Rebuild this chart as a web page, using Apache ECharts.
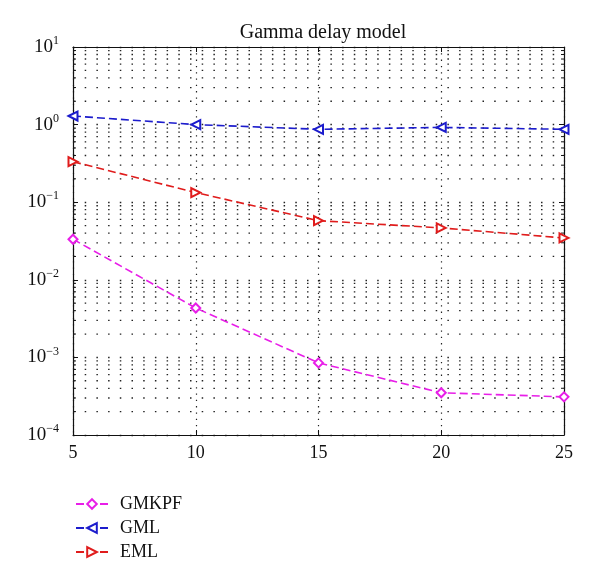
<!DOCTYPE html>
<html><head><meta charset="utf-8">
<script src="https://cdn.jsdelivr.net/npm/echarts@6/dist/echarts.min.js"></script>
<style>html,body{margin:0;padding:0;background:#fff}#c{width:600px;height:580px}</style>
</head><body><div id="c"></div>
<script>
const xValues = [5, 10, 15, 20, 25];
const gmkpf = [0.0333, 0.00433, 0.00085, 0.00035, 0.00031];
const gml = [1.29, 1.0, 0.87, 0.92, 0.87];
const eml = [0.333, 0.133, 0.0578, 0.0466, 0.0346];
const seriesNames = ['GMKPF', 'GML', 'EML'];
const titleText = 'Gamma delay model';

const SERIF = '"Liberation Serif", "DejaVu Serif", serif';
const minorYs = [];
for (let k = -4; k <= 0; k++) for (let m = 2; m <= 9; m++) minorYs.push(+(m * Math.pow(10, k)).toPrecision(3));

function pairs(ys) { return xValues.map((x, i) => [x, ys[i]]); }
function supLabel(v) {
  const e = Math.round(Math.log10(v));
  const s = e < 0 ? '\u2212' + (-e) : String(e);
  return '{b|10}{s|' + s + '}';
}
const DOT_H = [1.5, 10.2];
const chart = echarts.init(document.getElementById('c'), null, {renderer: 'canvas'});
const lineSeries = (name, data, color, symbol, rot) => ({
  name, type: 'line', data: pairs(data), xAxisIndex: 0, yAxisIndex: 0,
  symbol, symbolSize: 9, symbolRotate: rot,
  lineStyle: {color, width: 1.6, type: [8, 4]},
  itemStyle: {color, borderColor: color, borderWidth: 1.4},
  z: 5
});
chart.setOption({
  animation: false,
  backgroundColor: '#fff',
  title: {text: titleText, left: 318, top: 18, textAlign: 'center',
    textStyle: {fontFamily: SERIF, fontSize: 20, fontWeight: 'normal', color: '#111'}},
  grid: {left: 73, right: 36, top: 47, bottom: 145},
  legend: {
    orient: 'vertical', left: 70, top: 490, itemGap: 6, itemWidth: 32, itemHeight: 12,
    data: seriesNames,
    textStyle: {fontFamily: SERIF, fontSize: 18, color: '#111', padding: [0, 0, 0, 7]}
  },
  xAxis: [{
    type: 'value', min: 5, max: 25, interval: 5,
    axisLine: {lineStyle: {color: '#111', width: 1.2}},
    axisTick: {inside: true, length: 5, lineStyle: {color: '#111'}},
    axisLabel: {fontFamily: SERIF, fontSize: 18, color: '#111', margin: 9},
    splitLine: {show: true, lineStyle: {color: '#222', width: 1.2, type: [1.3, 5]}}
  }, {
    type: 'value', min: 5, max: 25, interval: 5, position: 'top',
    axisLine: {show: true, lineStyle: {color: '#111', width: 1.2}},
    axisTick: {inside: true, length: 5, lineStyle: {color: '#111'}},
    axisLabel: {show: false}, splitLine: {show: false}
  }],
  yAxis: [{
    type: 'log', logBase: 10, min: 1e-4, max: 10, interval: 1,
    axisLine: {show: true, lineStyle: {color: '#111', width: 1.2}},
    axisTick: {show: true, inside: true, length: 5, lineStyle: {color: '#111'}},
    axisLabel: {margin: 14, formatter: supLabel, rich: {
      b: {fontFamily: SERIF, fontSize: 19, color: '#111'},
      s: {fontFamily: SERIF, fontSize: 12, color: '#111', padding: [0, 0, 12, 0]}
    }},
    splitLine: {show: true, lineStyle: {color: '#222', width: 1.3, type: DOT_H}}
  }, {
    type: 'log', logBase: 10, min: 1e-4, max: 10, interval: 1, position: 'right',
    axisLine: {show: true, lineStyle: {color: '#111', width: 1.2}},
    axisTick: {show: true, inside: true, length: 5, lineStyle: {color: '#111'}},
    axisLabel: {show: false}, splitLine: {show: false}
  }],
  series: [
    {
      type: 'custom', silent: true, xAxisIndex: 0, yAxisIndex: 0, z: 1,
      data: minorYs.map(v => [5, v]),
      encode: {x: 0, y: 1},
      renderItem: function (params, api) {
        const v = api.value(1);
        const p1 = api.coord([5, v]);
        const p2 = api.coord([25, v]);
        return {type: 'group', children: [
          {type: 'line', shape: {x1: p1[0], y1: p1[1], x2: p2[0], y2: p2[1]},
            style: {stroke: '#222', lineWidth: 1.3, lineDash: DOT_H}},
          {type: 'line', shape: {x1: p1[0], y1: p1[1], x2: p1[0] + 3, y2: p1[1]},
            style: {stroke: '#111', lineWidth: 1}},
          {type: 'line', shape: {x1: p2[0] - 3, y1: p2[1], x2: p2[0], y2: p2[1]},
            style: {stroke: '#111', lineWidth: 1}}
        ]};
      }
    },
    lineSeries('GMKPF', gmkpf, '#e81ee8', 'emptyDiamond', 0),
    lineSeries('GML', gml, '#1c1ccc', 'emptyTriangle', 90),
    lineSeries('EML', eml, '#e01c1c', 'emptyTriangle', -90)
  ]
});
</script></body></html>
